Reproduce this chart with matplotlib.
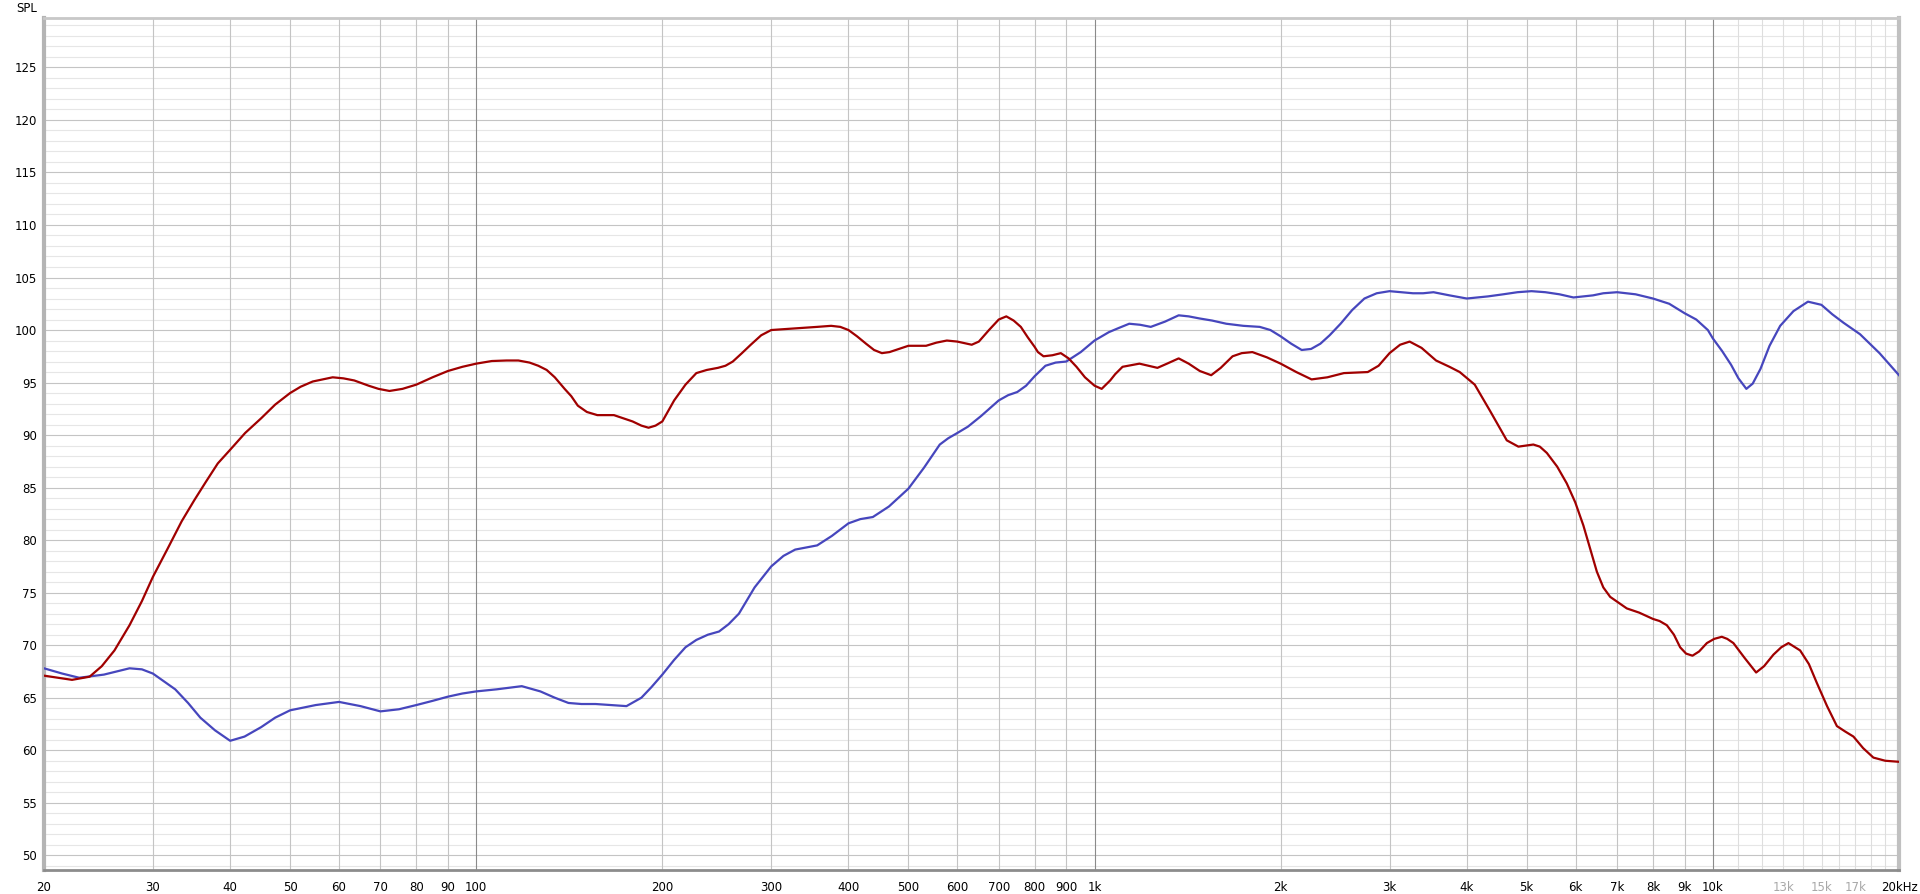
import numpy as np
import matplotlib.pyplot as plt

# red trace (freq Hz, SPL dB)
red_f = [20, 22.2, 23.7, 24.8, 26.0, 27.5, 28.8, 30, 31.7, 33.4, 35, 36.5, 38.2, 40, 42.3, 44.9, 47.3,
         50, 52, 54.4, 58.6, 61, 63.5, 67, 69.5, 72.4, 76, 80, 85, 90, 95, 100, 106, 112, 117, 122, 126,
         130, 134, 139, 142.5, 146, 151, 157, 162, 167, 173, 179, 185, 190, 195, 200, 204, 209, 218, 227,
         236, 246, 253, 260, 269, 278, 289, 300, 318, 337, 356, 375, 388, 400, 413, 427, 440, 453, 466,
         483, 500, 517, 534, 555, 577, 600, 633, 650, 675, 700, 720, 740, 760, 780, 800, 810, 827, 855,
         882, 908, 935, 965, 1000, 1027, 1060, 1080, 1110, 1182, 1222, 1264, 1310, 1368, 1420, 1480,
         1544, 1600, 1672, 1730, 1800, 1900, 2000, 2120, 2244, 2380, 2531, 2650, 2766, 2880, 3000,
         3120, 3233, 3380, 3567, 3750, 3896, 4120, 4362, 4500, 4642, 4847, 4980, 5125, 5250, 5389,
         5600, 5804, 5990, 6174, 6330, 6492, 6650, 6822, 7258, 7600, 8000, 8200, 8425, 8650, 8853,
         9050, 9269, 9500, 9779, 10050, 10338, 10550, 10795, 11250, 11748, 12100, 12530, 12900,
         13250, 13840, 14300, 14730, 15300, 15870, 16350, 16880, 17500, 18180, 19000, 20000]
red_db = [67.1, 66.7, 67.0, 68.0, 69.5, 71.9, 74.2, 76.5, 79.2, 81.8, 83.8, 85.5, 87.3, 88.6, 90.2, 91.6, 92.9,
          94.0, 94.6, 95.1, 95.5, 95.4, 95.2, 94.7, 94.4, 94.2, 94.4, 94.8, 95.5, 96.1, 96.5, 96.8, 97.05, 97.1, 97.1, 96.9, 96.6,
          96.2, 95.5, 94.4, 93.7, 92.8, 92.2, 91.9, 91.9, 91.9, 91.6, 91.3, 90.9, 90.7, 90.9, 91.3, 92.2, 93.3, 94.8, 95.9,
          96.2, 96.4, 96.6, 97.0, 97.8, 98.6, 99.5, 100.0, 100.1, 100.2, 100.3, 100.4, 100.3, 100.0, 99.4, 98.7, 98.1, 97.8, 97.9,
          98.2, 98.5, 98.5, 98.5, 98.8, 99.0, 98.9, 98.6, 98.9, 100.0, 101.0, 101.3, 100.9, 100.3, 99.3, 98.4, 97.9, 97.5, 97.6,
          97.8, 97.3, 96.5, 95.5, 94.7, 94.4, 95.2, 95.8, 96.5, 96.8, 96.6, 96.4, 96.8, 97.3, 96.8, 96.1,
          95.7, 96.4, 97.5, 97.8, 97.9, 97.4, 96.8, 96.0, 95.3, 95.5, 95.9, 95.95, 96.0, 96.6, 97.8,
          98.6, 98.9, 98.3, 97.1, 96.5, 96.0, 94.8, 92.3, 90.9, 89.5, 88.9, 89.0, 89.1, 88.9, 88.3,
          87.0, 85.4, 83.6, 81.4, 79.2, 77.0, 75.5, 74.6, 73.5, 73.1, 72.5, 72.3, 71.9, 71.0, 69.8,
          69.2, 69.0, 69.4, 70.2, 70.6, 70.8, 70.6, 70.2, 68.8, 67.4, 68.0, 69.1, 69.8,
          70.2, 69.5, 68.2, 66.4, 64.2, 62.3, 61.8, 61.3, 60.2, 59.3, 59.0, 58.9]

# blue trace
blue_f = [20, 21.4, 22.8, 25, 27.5, 28.8, 30, 32.6, 34.2, 35.8, 37.8, 40, 42.2, 44.9, 47.3, 50, 55, 60,
          65, 70, 75, 80, 85, 90, 95, 100, 108, 118.5, 127, 134, 141, 148, 156, 165, 175, 185, 192, 200,
          209, 218, 227, 237, 247, 256, 266, 282, 300, 314, 328, 342, 356, 376, 400, 418, 438, 465, 500,
          530, 562, 580, 600, 624, 655, 700, 725, 750, 775, 800, 833, 865, 900, 950, 1000, 1055, 1095,
          1138, 1185, 1233, 1300, 1368, 1420, 1479, 1550, 1633, 1740, 1850, 1925, 2000, 2080, 2163,
          2240, 2319, 2400, 2500, 2610, 2732, 2860, 3000, 3130, 3273, 3400, 3533, 3750, 4000, 4326,
          4580, 4830, 5090, 5360, 5650, 5950, 6400, 6650, 7000, 7500, 8000, 8500, 9000, 9400, 9815,
          10000, 10350, 10700, 11000, 11328, 11600, 11940, 12350, 12850, 13500, 14250, 14980, 15600,
          16260, 17300, 18600, 20000]
blue_db = [67.8, 67.3, 66.9, 67.2, 67.8, 67.7, 67.3, 65.8, 64.5, 63.1, 61.9, 60.9, 61.3, 62.2, 63.1, 63.8, 64.3, 64.6,
           64.2, 63.7, 63.9, 64.3, 64.7, 65.1, 65.4, 65.6, 65.8, 66.1, 65.6, 65.0, 64.5, 64.4, 64.4, 64.3, 64.2, 65.0, 66.0, 67.2,
           68.6, 69.8, 70.5, 71.0, 71.3, 72.0, 73.0, 75.5, 77.5, 78.5, 79.1, 79.3, 79.5, 80.4, 81.6, 82.0, 82.2, 83.2, 84.9,
           86.9, 89.1, 89.7, 90.2, 90.8, 91.8, 93.3, 93.8, 94.1, 94.7, 95.6, 96.6, 96.9, 97.0, 97.9, 99.0, 99.8, 100.2,
           100.6, 100.5, 100.3, 100.8, 101.4, 101.3, 101.1, 100.9, 100.6, 100.4, 100.3, 100.0, 99.4, 98.7, 98.1,
           98.2, 98.7, 99.5, 100.6, 101.9, 103.0, 103.5, 103.7, 103.6, 103.5, 103.5, 103.6, 103.3, 103.0, 103.2,
           103.4, 103.6, 103.7, 103.6, 103.4, 103.1, 103.3, 103.5, 103.6, 103.4, 103.0, 102.5, 101.6, 101.0, 100.0,
           99.2, 98.0, 96.7, 95.4, 94.4, 94.9, 96.3, 98.5, 100.4, 101.8, 102.7, 102.4, 101.5,
           100.7, 99.6, 97.8, 95.7]

x_ticks = [20, 30, 40, 50, 60, 70, 80, 90, 100, 200, 300, 400, 500, 600, 700, 800, 900,
           1000, 2000, 3000, 4000, 5000, 6000, 7000, 8000, 9000, 10000, 13000, 15000, 17000, 20000]
x_labels = ['20', '30', '40', '50', '60', '70', '80', '90', '100', '200', '300', '400', '500', '600',
            '700', '800', '900', '1k', '2k', '3k', '4k', '5k', '6k', '7k', '8k', '9k', '10k',
            '13k', '15k', '17k', '20kHz']
faint_labels = ['13k', '15k', '17k']
y_ticks = list(range(50, 130, 5))

fig = plt.figure(figsize=(19.2, 8.94), dpi=100)
ax = fig.add_axes([44/1920, 1 - 870/894, (1899 - 44)/1920, (870 - 17.5)/894])
ax.set_xscale('log')
ax.set_xlim(20, 20000)
ax.set_ylim(48.6, 129.75)

# grid
for v in range(49, 130):
    if v % 5 == 0:
        ax.axhline(v, color='#c4c4c4', lw=0.8, zorder=1)
    else:
        ax.axhline(v, color='#e6e6e6', lw=0.8, zorder=0)
for dec in [10, 100, 1000]:
    for m in range(2, 10):
        ax.axvline(m*dec, color='#c4c4c4', lw=0.8, zorder=1)
for f in [100, 1000, 10000]:
    ax.axvline(f, color='#8a8a8a', lw=0.8, zorder=1)
for f in range(11000, 20000, 1000):
    ax.axvline(f, color='#dedede', lw=0.8, zorder=0)

ax.plot(blue_f, blue_db, color='#4646bd', lw=1.6, zorder=3)
ax.plot(red_f, red_db, color='#a00000', lw=1.6, zorder=4)

ax.set_xticks(x_ticks)
ax.set_xticklabels(x_labels)
ax.xaxis.set_minor_locator(plt.NullLocator())
ax.set_yticks(y_ticks)
ax.tick_params(length=0, labelsize=8.5)
ax.tick_params(axis='x', pad=8)
ax.tick_params(axis='y', pad=5)
for lab in ax.get_xticklabels():
    if lab.get_text() in faint_labels:
        lab.set_color('#a8a8a8')

ax.spines['left'].set_color('#b4b4b4')
ax.spines['left'].set_linewidth(3)
ax.spines['bottom'].set_color('#8c8c8c')
ax.spines['bottom'].set_linewidth(2)
ax.spines['top'].set_color('#c8c8c8')
ax.spines['top'].set_linewidth(2)
ax.spines['right'].set_color('#c0c0c0')
ax.spines['right'].set_linewidth(3)

fig.text(27/1920, 1 - 8/894, 'SPL', ha='center', va='center', fontsize=8.5)

plt.savefig('out.png', dpi=100)
